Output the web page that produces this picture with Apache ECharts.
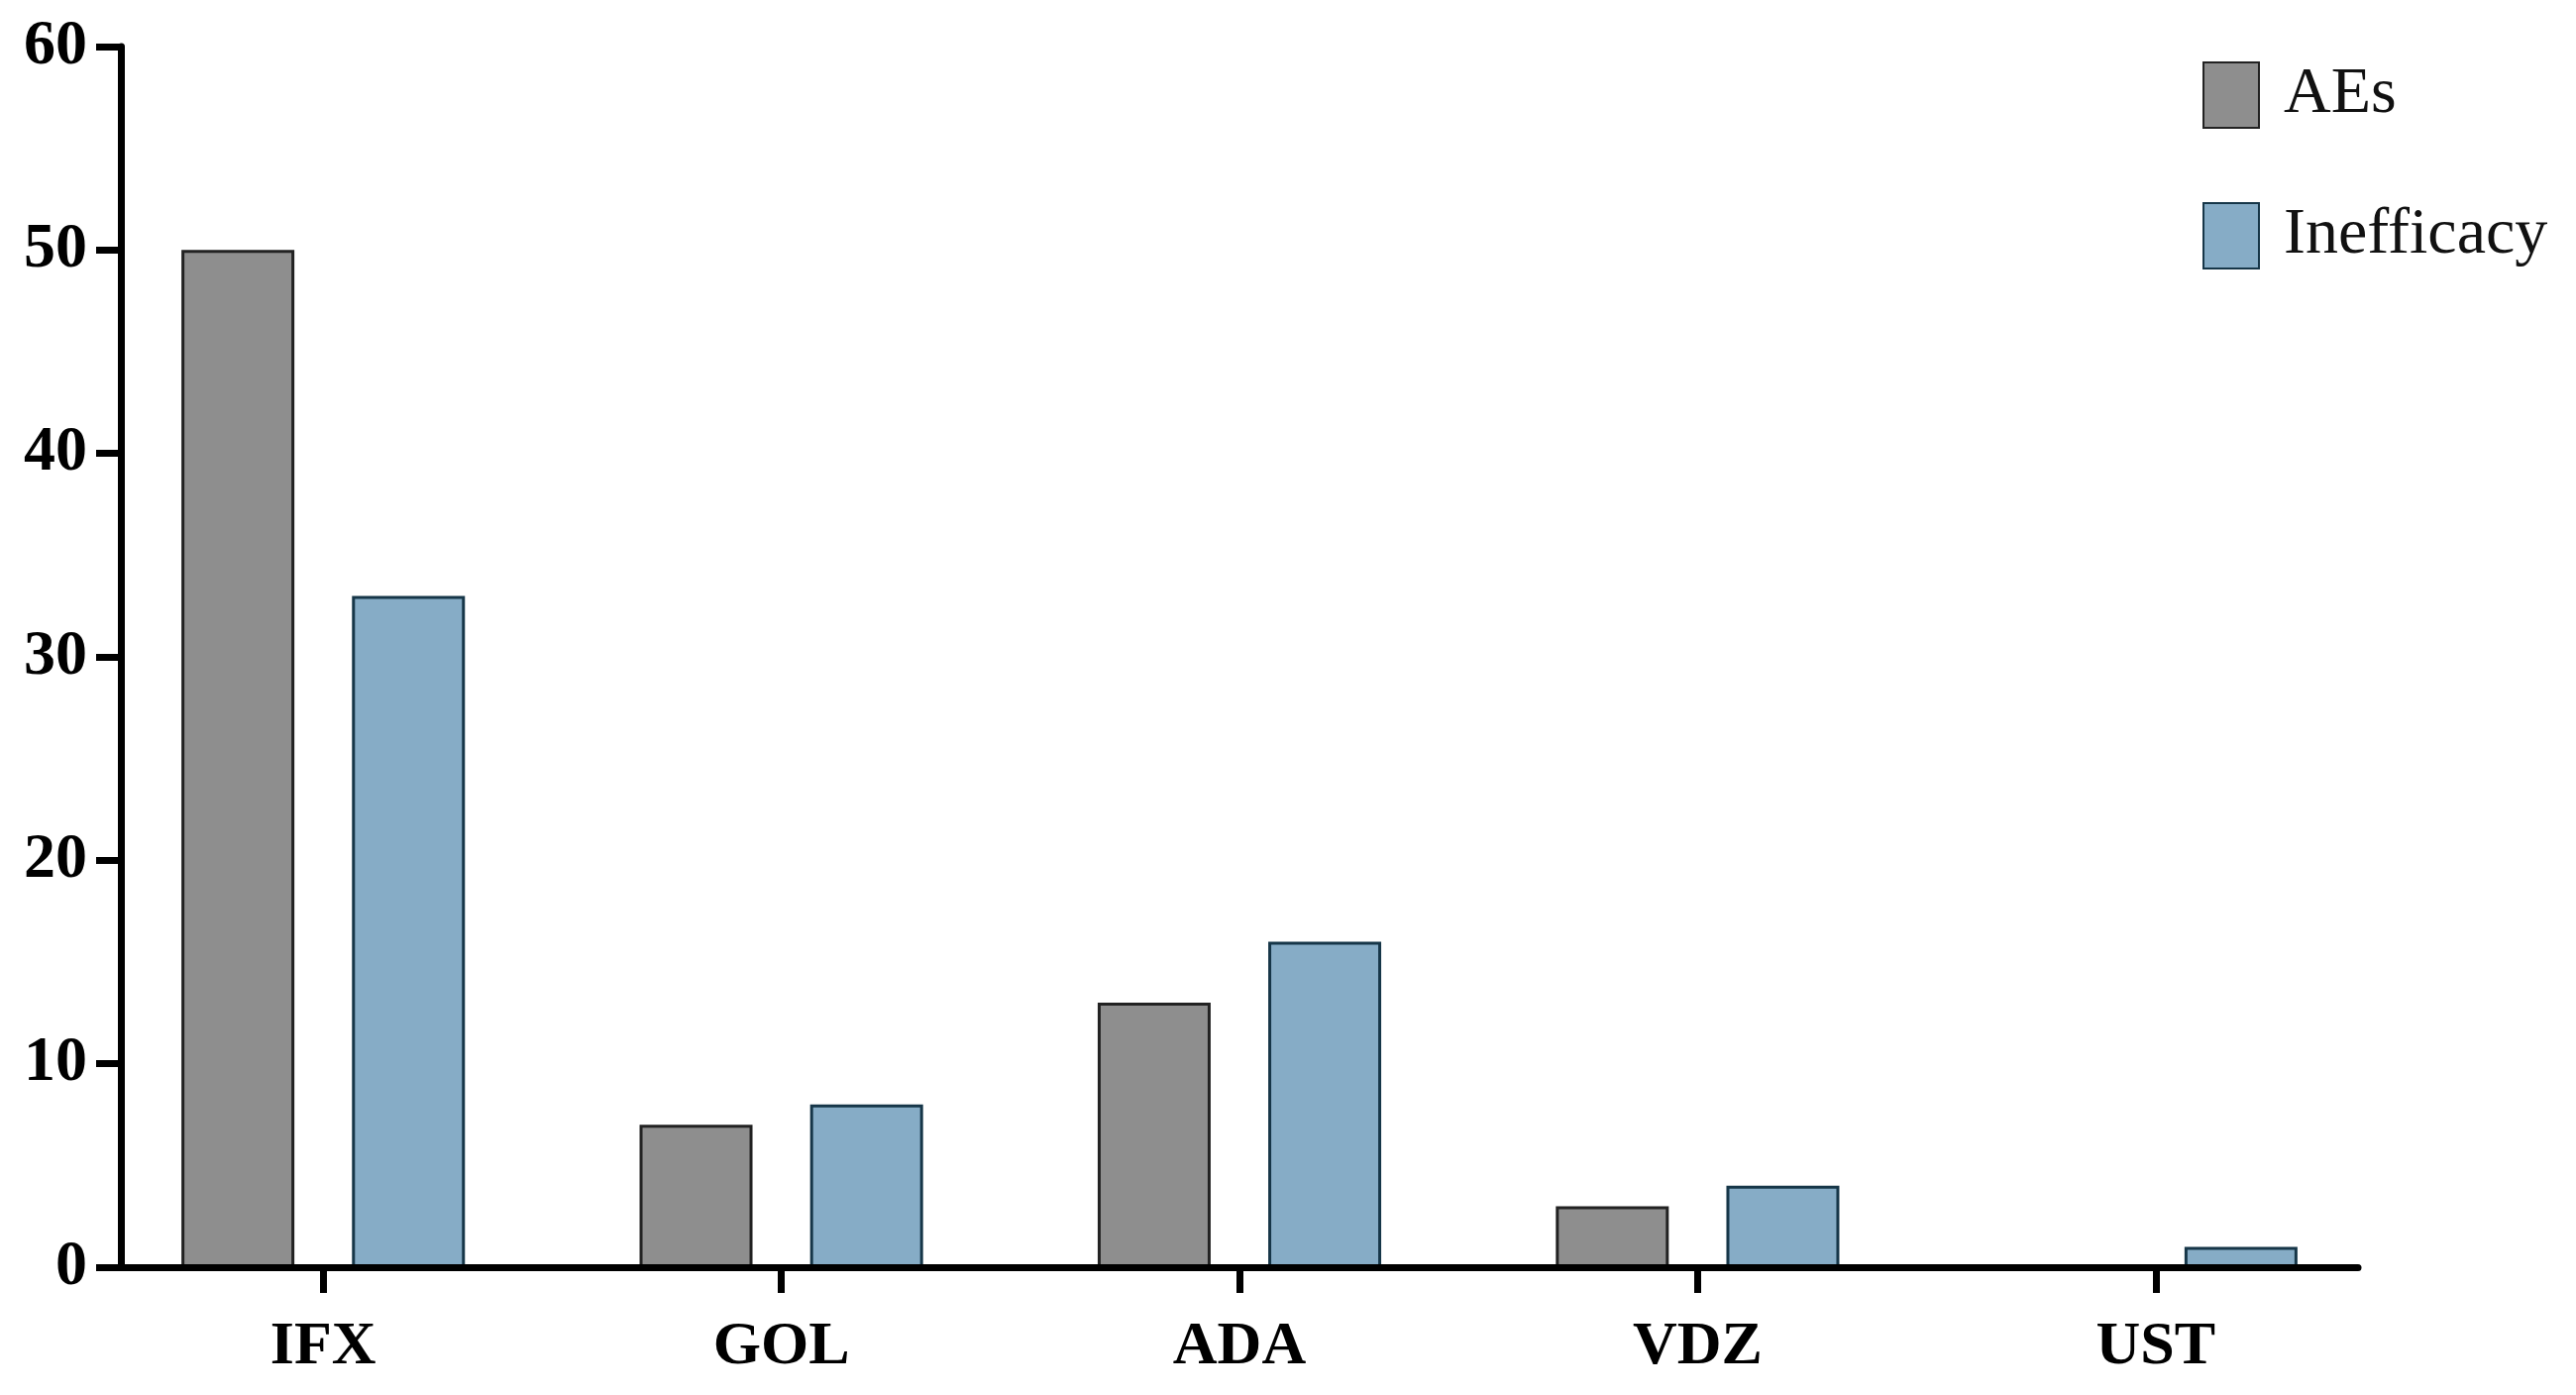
<!DOCTYPE html>
<html>
<head>
<meta charset="utf-8">
<script src="https://cdn.jsdelivr.net/npm/echarts@6/dist/echarts.min.js"></script>
<style>
html,body{margin:0;padding:0;background:#fff;}
#chart{width:2600px;height:1408px;}
</style>
</head>
<body>
<div id="chart"></div>
<script>
const categories = ['IFX', 'GOL', 'ADA', 'VDZ', 'UST'];
const seriesNames = ['AEs', 'Inefficacy'];
const aesValues = [50, 7, 13, 3, 0];
const inefficacyValues = [33, 8, 16, 4, 1];
const yTicks = { min: 0, max: 60, interval: 10 };

const FONT = '"Liberation Serif", "Times New Roman", serif';
const chart = echarts.init(document.getElementById('chart'), null, { renderer: 'canvas' });

const option = {
  backgroundColor: '#ffffff',
  animation: false,
  legend: {
    orient: 'vertical',
    left: 2218,
    top: 57,
    itemWidth: 56,
    itemHeight: 66,
    itemGap: 74,
    icon: 'rect',
    data: seriesNames,
    textStyle: { fontFamily: FONT, fontSize: 66, color: '#111', padding: [0, 0, 0, 20] }
  },
  grid: [
    { left: 95, right: 193, top: 47, bottom: 129 },
    { left: 122, right: 220, top: 47, bottom: 129 }
  ],
  xAxis: [
    {
      type: 'category', gridIndex: 0, data: categories,
      axisLine: { show: false },
      axisTick: { show: true, alignWithLabel: true, length: 26, lineStyle: { color: '#000', width: 7 } },
      axisLabel: { fontFamily: FONT, fontWeight: 'bold', fontSize: 62, color: '#000', margin: 50 }
    },
    {
      type: 'category', gridIndex: 1, data: categories, z: 5,
      axisLine: { show: true, lineStyle: { color: '#000', width: 7 } },
      axisTick: { show: false },
      axisLabel: { show: false }
    }
  ],
  yAxis: [
    {
      type: 'value', gridIndex: 0, min: yTicks.min, max: yTicks.max, interval: yTicks.interval,
      show: false, splitLine: { show: false }
    },
    {
      type: 'value', gridIndex: 1, min: yTicks.min, max: yTicks.max, interval: yTicks.interval, z: 5,
      axisLine: { show: true, lineStyle: { color: '#000', width: 7 } },
      axisTick: { show: true, length: 25, lineStyle: { color: '#000', width: 7 } },
      axisLabel: { fontFamily: FONT, fontWeight: 'bold', fontSize: 64, color: '#000', margin: 34 },
      splitLine: { show: false }
    }
  ],
  series: [
    {
      name: seriesNames[0], type: 'bar', xAxisIndex: 0, yAxisIndex: 0,
      data: aesValues, barWidth: 114, barGap: '51%',
      itemStyle: { color: '#8e8e8e', borderColor: '#222222', borderWidth: 3 }
    },
    {
      name: seriesNames[1], type: 'bar', xAxisIndex: 0, yAxisIndex: 0,
      data: inefficacyValues, barWidth: 114, barGap: '51%',
      itemStyle: { color: '#86acc6', borderColor: '#163648', borderWidth: 3 }
    }
  ]
};
chart.setOption(option);
</script>
</body>
</html>
